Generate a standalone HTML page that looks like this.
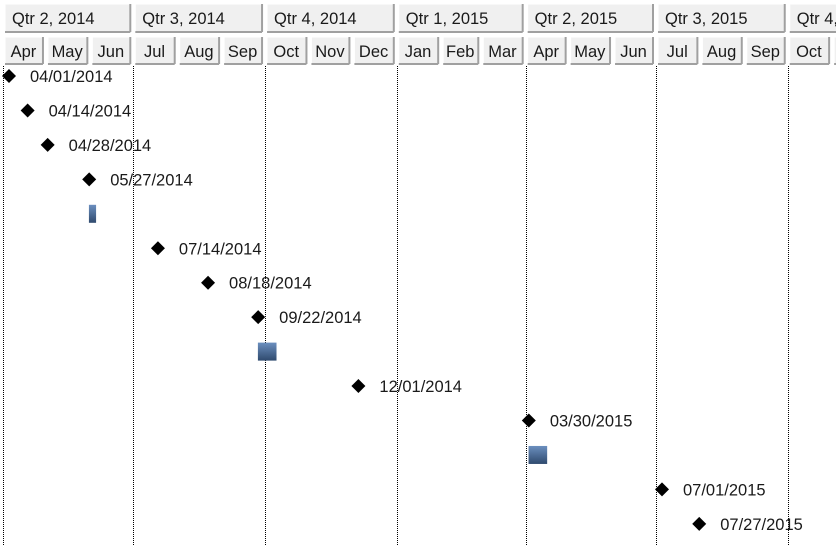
<!DOCTYPE html>
<html><head><meta charset="utf-8">
<style>
body{margin:0;background:#fff;width:836px;height:545px;overflow:hidden;font-family:"Liberation Sans",Arial,sans-serif;}
svg{display:block}
</style></head><body>
<svg id="chart" width="836" height="545" xmlns="http://www.w3.org/2000/svg"></svg>
<script>
const quarterLabels = ["Qtr 2, 2014","Qtr 3, 2014","Qtr 4, 2014","Qtr 1, 2015","Qtr 2, 2015","Qtr 3, 2015","Qtr 4, 2015"];
const monthLabels = ["Apr","May","Jun","Jul","Aug","Sep","Oct","Nov","Dec","Jan","Feb","Mar","Apr","May","Jun","Jul","Aug","Sep","Oct","Nov","Dec"];
const milestoneDates = ["2014-04-01","2014-04-14","2014-04-28","2014-05-27",null,"2014-07-14","2014-08-18","2014-09-22",null,"2014-12-01","2015-03-30",null,"2015-07-01","2015-07-27"];
const milestoneLabels = ["04/01/2014","04/14/2014","04/28/2014","05/27/2014",null,"07/14/2014","08/18/2014","09/22/2014",null,"12/01/2014","03/30/2015",null,"07/01/2015","07/27/2015"];
const barStarts = [null,null,null,null,"2014-05-31",null,null,null,"2014-09-26",null,null,"2015-04-03",null,null];
const barEnds = [null,null,null,null,"2014-06-05",null,null,null,"2014-10-09",null,null,"2015-04-16",null,null];

const NS="http://www.w3.org/2000/svg";
const svg=document.getElementById('chart');
const origin=Date.UTC(2014,3,1);
const pxPerDay=1.432, x0=3;
function dayOf(s){const p=s.split('-');return (Date.UTC(+p[0],+p[1]-1,+p[2])-origin)/86400000;}
function xScale(s){return x0+dayOf(s)*pxPerDay;}
function yRow(i){return 76+i*34.45;}
function el(tag,attrs,parent){const e=document.createElementNS(NS,tag);for(const k in attrs)e.setAttribute(k,attrs[k]);(parent||svg).appendChild(e);return e;}

const defs=el('defs',{});
const g=el('linearGradient',{id:'barg',x1:0,y1:0,x2:0,y2:1},defs);
el('stop',{offset:'0','stop-color':'#6b8fbf'},g);
el('stop',{offset:'1','stop-color':'#2f4a6e'},g);

function cell(x,y,w,h,name){
  const r=el('rect',{x:x,y:y,width:w,height:h,fill:'#f0f0f0',stroke:'none'});
  
  
  el('line',{x1:x,y1:y,x2:x+w,y2:y,stroke:'#ffffff'});
  el('line',{x1:x,y1:y,x2:x,y2:y+h,stroke:'#ffffff'});
  el('line',{x1:x,y1:y+h,x2:x+w,y2:y+h,stroke:'#a0a0a0','stroke-width':2});
  el('line',{x1:x+w,y1:y,x2:x+w,y2:y+h,stroke:'#a0a0a0','stroke-width':2});
  return r;
}
const qStarts=["2014-04-01","2014-07-01","2014-10-01","2015-01-01","2015-04-01","2015-07-01","2015-10-01","2016-01-01"];
quarterLabels.forEach((q,i)=>{
  const xa=xScale(qStarts[i]), xb=xScale(qStarts[i+1]);
  cell(xa+2,4,xb-xa-5,28,'quarter-header');
  const t=el('text',{x:xa+9,y:24,'font-size':16.5,fill:'#1a1a1a'});t.textContent=q;
  
  
});
monthLabels.forEach((m,i)=>{
  const y=2014+Math.floor((3+i)/12), mo=(3+i)%12;
  const s=y+'-'+(mo+1)+'-1', y2=2014+Math.floor((4+i)/12), mo2=(4+i)%12;
  const xa=xScale(s), xb=xScale(y2+'-'+(mo2+1)+'-1');
  cell(xa+2,37,xb-xa-5,27,'month-header');
  const t=el('text',{x:(xa+xb)/2-1,y:57,'font-size':16.5,fill:'#1a1a1a','text-anchor':'middle'});t.textContent=m;
  
  
});
qStarts.forEach(s=>{
  const x=Math.round(xScale(s))+0.5;
  const l=el('line',{x1:x,y1:66,x2:x,y2:545,stroke:'#000','stroke-dasharray':'1,1'});
  
  
});
milestoneDates.forEach((d,i)=>{
  if(!d)return;
  const cx=xScale(d)+6, cy=yRow(i);
  const p=el('polygon',{points:`${cx},${cy-7} ${cx+7},${cy} ${cx},${cy+7} ${cx-7},${cy}`,fill:'#000'});
  
  
  const t=el('text',{x:cx+21,y:cy+6,'font-size':16.5,fill:'#1a1a1a'});t.textContent=milestoneLabels[i];
  
  
});
barStarts.forEach((s,i)=>{
  if(!s)return;
  const xa=xScale(s), xb=xScale(barEnds[i]), cy=yRow(i);
  const r=el('rect',{x:xa,y:cy-9,width:xb-xa,height:18,fill:'url(#barg)'});
  
  
});
</script>
</body></html>
